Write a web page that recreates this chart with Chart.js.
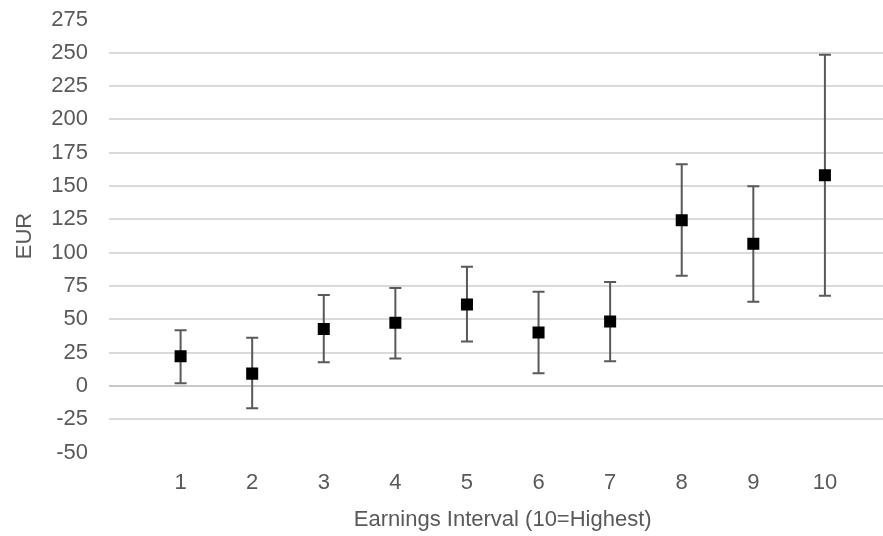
<!DOCTYPE html>
<html>
<head>
<meta charset="utf-8">
<script src="https://cdn.jsdelivr.net/npm/chart.js@4/dist/chart.umd.min.js"></script>
<style>
  html, body { margin: 0; padding: 0; background: #fff; overflow: hidden; }
  #wrap { width: 905px; height: 536px; }
</style>
</head>
<body>
<div id="wrap"><canvas id="c" width="905" height="536"></canvas></div>
<script>
const categories = [1, 2, 3, 4, 5, 6, 7, 8, 9, 10];
const means = [22.2, 9.2, 42.7, 47.4, 61.0, 40.0, 48.4, 124.4, 106.6, 158.1];
const upper = [41.7, 36.2, 68.2, 73.4, 89.4, 70.7, 77.9, 166.4, 149.9, 248.5];
const lower = [2.0, -16.8, 17.7, 20.5, 33.4, 9.4, 18.4, 82.7, 63.2, 67.7];
const yTicks = [-50, -25, 0, 25, 50, 75, 100, 125, 150, 175, 200, 225, 250, 275];
const xTitle = 'Earnings Interval (10=Highest)';
const yTitle = 'EUR';

const points = categories.map((c, i) => ({ x: c, y: means[i], hi: upper[i], lo: lower[i] }));

const errorBars = {
  id: 'errorBars',
  beforeDatasetsDraw(chart) {
    const ctx = chart.ctx;
    const xs = chart.scales.x, ys = chart.scales.y;
    ctx.save();
    ctx.strokeStyle = '#595959';
    ctx.lineWidth = 2;
    points.forEach(p => {
      const px = xs.getPixelForValue(p.x);
      const pt = ys.getPixelForValue(p.hi);
      const pb = ys.getPixelForValue(p.lo);
      ctx.beginPath();
      ctx.moveTo(px, pt); ctx.lineTo(px, pb);
      ctx.moveTo(px - 6, pt); ctx.lineTo(px + 6, pt);
      ctx.moveTo(px - 6, pb); ctx.lineTo(px + 6, pb);
      ctx.stroke();
    });
    ctx.restore();
  }
};

Chart.defaults.font.family = '"Liberation Sans", Arial, sans-serif';
Chart.defaults.color = '#595959';

new Chart(document.getElementById('c'), {
  type: 'scatter',
  data: {
    datasets: [{
      data: points,
      backgroundColor: '#000',
      borderColor: '#000',
      pointStyle: 'rect',
      pointRadius: 8.5,
      pointHoverRadius: 8.5,
      borderWidth: 0
    }]
  },
  options: {
    responsive: false,
    animation: false,
    layout: { padding: { top: 19.5, right: 0, bottom: 0, left: 10 } },
    plugins: { legend: { display: false }, tooltip: { enabled: false } },
    scales: {
      x: {
        type: 'linear',
        min: 0,
        max: 11,
        afterBuildTicks(scale) { scale.ticks = categories.map(v => ({ value: v })); },
        afterFit(scale) { scale.height = 83.5; scale.paddingLeft = 0; scale.paddingRight = 0; },
        ticks: { font: { size: 22 }, color: '#595959', padding: 17 },
        grid: { display: false, drawTicks: false },
        border: { display: false },
        title: { display: true, text: xTitle, font: { size: 22 }, color: '#595959', padding: { top: 11, bottom: 3 } }
      },
      y: {
        min: -50,
        max: 275,
        afterBuildTicks(scale) { scale.ticks = yTicks.map(v => ({ value: v })); },
        afterFit(scale) { scale.width = 99; scale.paddingTop = 0; scale.paddingBottom = 0; },
        ticks: { font: { size: 22 }, color: '#595959', padding: 21 },
        grid: {
          drawTicks: false,
          lineWidth: 2,
          color(ctx) {
            const v = ctx.tick && ctx.tick.value;
            if (v === 275 || v === -50) return 'rgba(0,0,0,0)';
            if (v === 0) return '#c8c8c8';
            return '#dadada';
          }
        },
        border: { display: false },
        title: { display: true, text: yTitle, font: { size: 22 }, color: '#595959', padding: { top: 2, bottom: 13 } }
      }
    }
  },
  plugins: [errorBars]
});
</script>
</body>
</html>
